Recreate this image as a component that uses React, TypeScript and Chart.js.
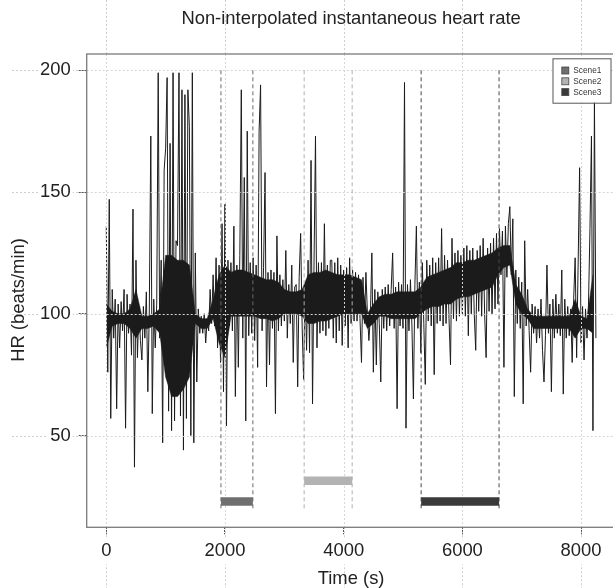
import React, { useEffect, useRef } from 'react';
import { Chart, registerables } from 'chart.js';

Chart.register(...registerables);

const TITLE = 'Non-interpolated instantaneous heart rate';
const X_LABEL = 'Time (s)';
const Y_LABEL = 'HR (beats/min)';

// Heart-rate samples, one every SAMPLE_STEP_S seconds
const SAMPLE_STEP_S = 25;
const hrBpm: number[] = [
  136, 76, 147, 57, 110, 90, 106, 61,
  104, 86, 105, 93, 110, 53, 108, 92,
  104, 83, 143, 37, 122, 82, 103, 89,
  81, 103, 90, 109, 68, 102, 173, 59,
  106, 86, 104, 199, 90, 122, 47, 159,
  168, 197, 60, 170, 52, 199, 56, 130,
  128, 199, 58, 192, 44, 190, 57, 192,
  177, 50, 199, 47, 125, 72, 102, 92,
  99, 92, 100, 88, 98, 93, 110, 96,
  116, 95, 123, 86, 120, 80, 137, 68,
  145, 54, 122, 95, 121, 93, 136, 66,
  120, 78, 124, 192, 90, 156, 56, 175,
  91, 121, 92, 123, 89, 120, 78, 175,
  194, 93, 119, 158, 70, 117, 79, 118,
  94, 117, 59, 132, 93, 116, 95, 114,
  97, 126, 90, 112, 96, 120, 80, 111,
  112, 70, 115, 133, 95, 73, 112, 85,
  122, 84, 163, 63, 120, 173, 86, 121,
  92, 121, 93, 137, 91, 120, 94, 122,
  122, 90, 121, 88, 123, 93, 120, 87,
  118, 95, 119, 86, 123, 96, 118, 97,
  117, 97, 116, 98, 80, 115, 96, 117,
  100, 89, 99, 125, 76, 110, 79, 109,
  96, 72, 110, 94, 111, 93, 112, 95,
  110, 125, 94, 111, 61, 113, 95, 112,
  94, 195, 53, 112, 93, 114, 95, 65,
  112, 136, 94, 113, 84, 121, 96, 71,
  122, 97, 120, 95, 123, 75, 121, 96,
  123, 97, 135, 95, 124, 96, 122, 98,
  79, 131, 98, 125, 97, 126, 99, 124,
  100, 127, 99, 128, 91, 126, 100, 127,
  100, 85, 126, 101, 128, 99, 131, 100,
  82, 127, 101, 129, 100, 131, 102, 133,
  104, 135, 116, 134, 78, 136, 115, 137,
  144, 116, 139, 66, 118, 96, 115, 94,
  113, 63, 130, 95, 110, 93, 76, 104,
  92, 103, 88, 102, 90, 106, 85, 72,
  91, 120, 92, 104, 68, 106, 90, 108,
  92, 104, 91, 118, 67, 106, 90, 103,
  91, 102, 80, 106, 123, 82, 120, 160,
  88, 103, 81, 102, 90, 104, 135, 173,
  52, 188, 90,
];
const timeS: number[] = hrBpm.map((_, i) => i * SAMPLE_STEP_S);

// Dense core of the beat-to-beat band (where the trace is solid black), every CORE_STEP_S seconds
const CORE_STEP_S = 100;
const coreUpperBpm: number[] = [
  104, 101, 100, 100, 102, 110, 99, 99, 100, 102,
  124, 124, 122, 122, 120, 100, 98, 98, 106, 116,
  120, 117, 118, 118, 117, 116, 115, 114, 114, 113,
  110, 109, 109, 110, 116, 117, 117, 118, 117, 116,
  116, 116, 115, 114, 100, 104, 107, 108, 108, 109,
  109, 109, 109, 111, 115, 116, 117, 118, 119, 121,
  121, 122, 122, 123, 124, 125, 127, 128, 128, 112,
  108, 102, 99, 99, 99, 99, 99, 99, 99, 106,
  99, 98, 116,
];
const coreLowerBpm: number[] = [
  86, 95, 96, 96, 94, 90, 94, 94, 95, 92,
  74, 66, 66, 69, 74, 96, 94, 94, 98, 88,
  82, 99, 99, 99, 99, 99, 98, 98, 97, 98,
  100, 100, 100, 99, 96, 96, 97, 97, 98, 99,
  100, 100, 100, 100, 94, 96, 99, 99, 98, 98,
  98, 98, 98, 100, 102, 103, 103, 104, 104, 106,
  107, 107, 108, 109, 110, 111, 116, 119, 120, 104,
  100, 98, 94, 94, 94, 94, 94, 94, 94, 90,
  94, 94, 92,
];
const coreTimeS: number[] = coreUpperBpm.map((_, i) => i * CORE_STEP_S);

const xTicks = [0, 2000, 4000, 6000, 8000];
const yTicks = [50, 100, 150, 200];

const sceneNames = ['Scene1', 'Scene2', 'Scene3'];
const sceneStart = [1932, 3334, 5305];
const sceneEnd = [2470, 4143, 6618];
const sceneLevel = [22.9, 31.4, 22.9];
const sceneMarkTop = 200;
const sceneMarkBottom = 19;

const sceneFill = ['#6f6f6f', '#b3b3b3', '#3a3a3a'];
const sceneDash = ['#6a6a6a', '#b0b0b0', '#4a4a4a'];

const X_MIN = -330;
const X_MAX = 8580;
const Y_MIN = 12.3;
const Y_MAX = 206.7;

const CANVAS_W = 620;
const CANVAS_H = 588;
const FONT = '"Liberation Sans", Arial, Helvetica, sans-serif';
const FONT_SIZE = 18.4;
const TRACE = '#1b1b1b';

function dotted(ctx: CanvasRenderingContext2D, x1: number, y1: number, x2: number, y2: number) {
  ctx.beginPath();
  ctx.moveTo(x1, y1);
  ctx.lineTo(x2, y2);
  ctx.stroke();
}

const figurePlugin = {
  id: 'figureDecor',
  beforeDraw(chart: any) {
    const { ctx, chartArea: a, scales } = chart;
    const x = scales.x;
    const y = scales.y;
    ctx.save();
    ctx.fillStyle = '#ffffff';
    ctx.fillRect(0, 0, chart.width, chart.height);
    ctx.strokeStyle = '#cfcfcf';
    ctx.lineWidth = 1;
    ctx.setLineDash([2, 2]);
    xTicks.forEach((v) => {
      const px = Math.round(x.getPixelForValue(v)) + 0.5;
      dotted(ctx, px, 0, px, a.top);
      dotted(ctx, px, a.bottom, px, chart.height);
    });
    yTicks.forEach((v) => {
      const py = Math.round(y.getPixelForValue(v)) + 0.5;
      dotted(ctx, 12, py, a.left, py);
    });
    ctx.setLineDash([]);
    ctx.fillStyle = '#222222';
    ctx.font = `${FONT_SIZE}px ${FONT}`;
    ctx.textAlign = 'center';
    ctx.textBaseline = 'alphabetic';
    const cx = (a.left + a.right) / 2;
    ctx.fillText(TITLE, cx, 24);
    ctx.fillText(X_LABEL, cx, 584);
    ctx.translate(24, 300);
    ctx.rotate(-Math.PI / 2);
    ctx.fillText(Y_LABEL, 0, 0);
    ctx.restore();
  },
  afterDatasetDraw(chart: any, args: any) {
    if (args.index !== 0) return;
    const { ctx, chartArea: a, scales } = chart;
    const x = scales.x;
    const y = scales.y;
    ctx.save();
    ctx.beginPath();
    ctx.rect(a.left, a.top, a.right - a.left, a.bottom - a.top);
    ctx.clip();
    ctx.strokeStyle = '#d6d6d6';
    ctx.lineWidth = 1;
    ctx.setLineDash([2, 2]);
    xTicks.forEach((v) => {
      const px = Math.round(x.getPixelForValue(v)) + 0.5;
      dotted(ctx, px, a.top, px, a.bottom);
    });
    yTicks.forEach((v) => {
      const py = Math.round(y.getPixelForValue(v)) + 0.5;
      dotted(ctx, a.left, py, a.right, py);
    });
    ctx.restore();
  },
  afterDraw(chart: any) {
    const { ctx, chartArea: a } = chart;
    ctx.save();
    ctx.strokeStyle = '#7a7a7a';
    ctx.lineWidth = 1.3;
    ctx.strokeRect(a.left, a.top, a.right - a.left, a.bottom - a.top);

    // legend
    const bx = a.right - 63;
    const by = a.top + 4.3;
    const bw = 58;
    const bh = 44.4;
    ctx.fillStyle = '#ffffff';
    ctx.fillRect(bx, by, bw, bh);
    ctx.strokeStyle = '#555555';
    ctx.lineWidth = 1;
    ctx.strokeRect(bx + 0.5, by + 0.5, bw, bh);
    ctx.font = `8.3px ${FONT}`;
    ctx.textAlign = 'left';
    ctx.textBaseline = 'middle';
    sceneNames.forEach((name, i) => {
      const cy = by + 12.2 + i * 10.8;
      ctx.fillStyle = sceneFill[i];
      ctx.fillRect(bx + 9.3, cy - 3.5, 7, 7);
      ctx.strokeStyle = '#444444';
      ctx.lineWidth = 0.8;
      ctx.strokeRect(bx + 9.3, cy - 3.5, 7, 7);
      ctx.fillStyle = '#333333';
      ctx.fillText(name, bx + 20.8, cy + 0.5);
    });
    ctx.restore();
  },
};

export default function App() {
  const ref = useRef<HTMLCanvasElement | null>(null);

  useEffect(() => {
    if (!ref.current) return;
    const hrData = timeS.map((t, i) => ({ x: t, y: hrBpm[i] }));
    const coreUpper = coreTimeS.map((t, i) => ({ x: t, y: coreUpperBpm[i] }));
    const coreLower = coreTimeS.map((t, i) => ({ x: t, y: coreLowerBpm[i] }));
    const sceneBars = sceneNames.map((name, i) => ({
      label: name,
      data: [
        { x: sceneStart[i], y: sceneLevel[i] },
        { x: sceneEnd[i], y: sceneLevel[i] },
      ],
      borderColor: sceneFill[i],
      backgroundColor: sceneFill[i],
      borderWidth: 8.4,
      borderCapStyle: 'butt' as const,
      pointRadius: 0,
      order: 1,
    }));
    const sceneMarks: any[] = [];
    sceneNames.forEach((name, i) => {
      [sceneStart[i], sceneEnd[i]].forEach((t) => {
        sceneMarks.push({
          label: name + ' mark',
          data: [
            { x: t, y: sceneMarkTop },
            { x: t, y: sceneMarkBottom },
          ],
          borderColor: sceneDash[i],
          borderWidth: 1,
          borderDash: [4, 3],
          pointRadius: 0,
          order: 2,
        });
      });
    });

    const tickFont = { family: FONT, size: FONT_SIZE };
    const chart = new Chart(ref.current, {
      type: 'line',
      data: {
        datasets: [
          {
            label: 'HR',
            data: hrData,
            borderColor: TRACE,
            borderWidth: 1,
            pointRadius: 0,
            tension: 0,
            order: 10,
          },
          {
            label: 'core upper',
            data: coreUpper,
            borderColor: TRACE,
            backgroundColor: TRACE,
            borderWidth: 0.5,
            pointRadius: 0,
            tension: 0,
            fill: '+1',
            order: 20,
          },
          {
            label: 'core lower',
            data: coreLower,
            borderColor: TRACE,
            borderWidth: 0.5,
            pointRadius: 0,
            tension: 0,
            fill: false,
            order: 21,
          },
          ...sceneBars,
          ...sceneMarks,
        ],
      },
      options: {
        responsive: false,
        animation: false,
        events: [],
        layout: { padding: { top: 54, left: 0, right: CANVAS_W - 615.5, bottom: 0 } },
        plugins: {
          legend: { display: false },
          title: { display: false },
          tooltip: { enabled: false },
          filler: { propagate: false },
        },
        scales: {
          x: {
            type: 'linear',
            min: X_MIN,
            max: X_MAX,
            afterBuildTicks: (s: any) => {
              s.ticks = xTicks.map((v) => ({ value: v }));
            },
            afterFit: (s: any) => {
              s.height = 60.7;
            },
            border: { display: false },
            grid: {
              drawOnChartArea: false,
              drawTicks: true,
              tickLength: 7,
              tickColor: '#555555',
              tickBorderDash: [2, 1],
              tickWidth: 1,
            },
            ticks: {
              font: tickFont,
              color: '#222222',
              padding: 6,
              maxRotation: 0,
              autoSkip: false,
              showLabelBackdrop: true,
              backdropColor: '#ffffff',
              backdropPadding: 2,
              callback: (v: any) => String(v),
            },
          },
          y: {
            type: 'linear',
            min: Y_MIN,
            max: Y_MAX,
            afterBuildTicks: (s: any) => {
              s.ticks = yTicks.map((v) => ({ value: v }));
            },
            afterFit: (s: any) => {
              s.width = 86.7;
            },
            border: { display: false },
            grid: {
              drawOnChartArea: false,
              drawTicks: true,
              tickLength: 8,
              tickColor: '#555555',
              tickBorderDash: [2, 1],
              tickWidth: 1,
            },
            ticks: {
              font: tickFont,
              color: '#222222',
              padding: 8,
              autoSkip: false,
              showLabelBackdrop: true,
              backdropColor: '#ffffff',
              backdropPadding: 2,
              callback: (v: any) => String(v),
            },
          },
        },
      } as any,
      plugins: [figurePlugin],
    });
    return () => chart.destroy();
  }, []);

  return (
    <div
      style={{
        position: 'fixed',
        left: 0,
        top: 0,
        width: 613,
        height: 588,
        overflow: 'hidden',
        background: '#ffffff',
      }}
    >
      <canvas ref={ref} width={CANVAS_W} height={CANVAS_H} style={{ display: 'block', width: CANVAS_W, height: CANVAS_H }} />
    </div>
  );
}
